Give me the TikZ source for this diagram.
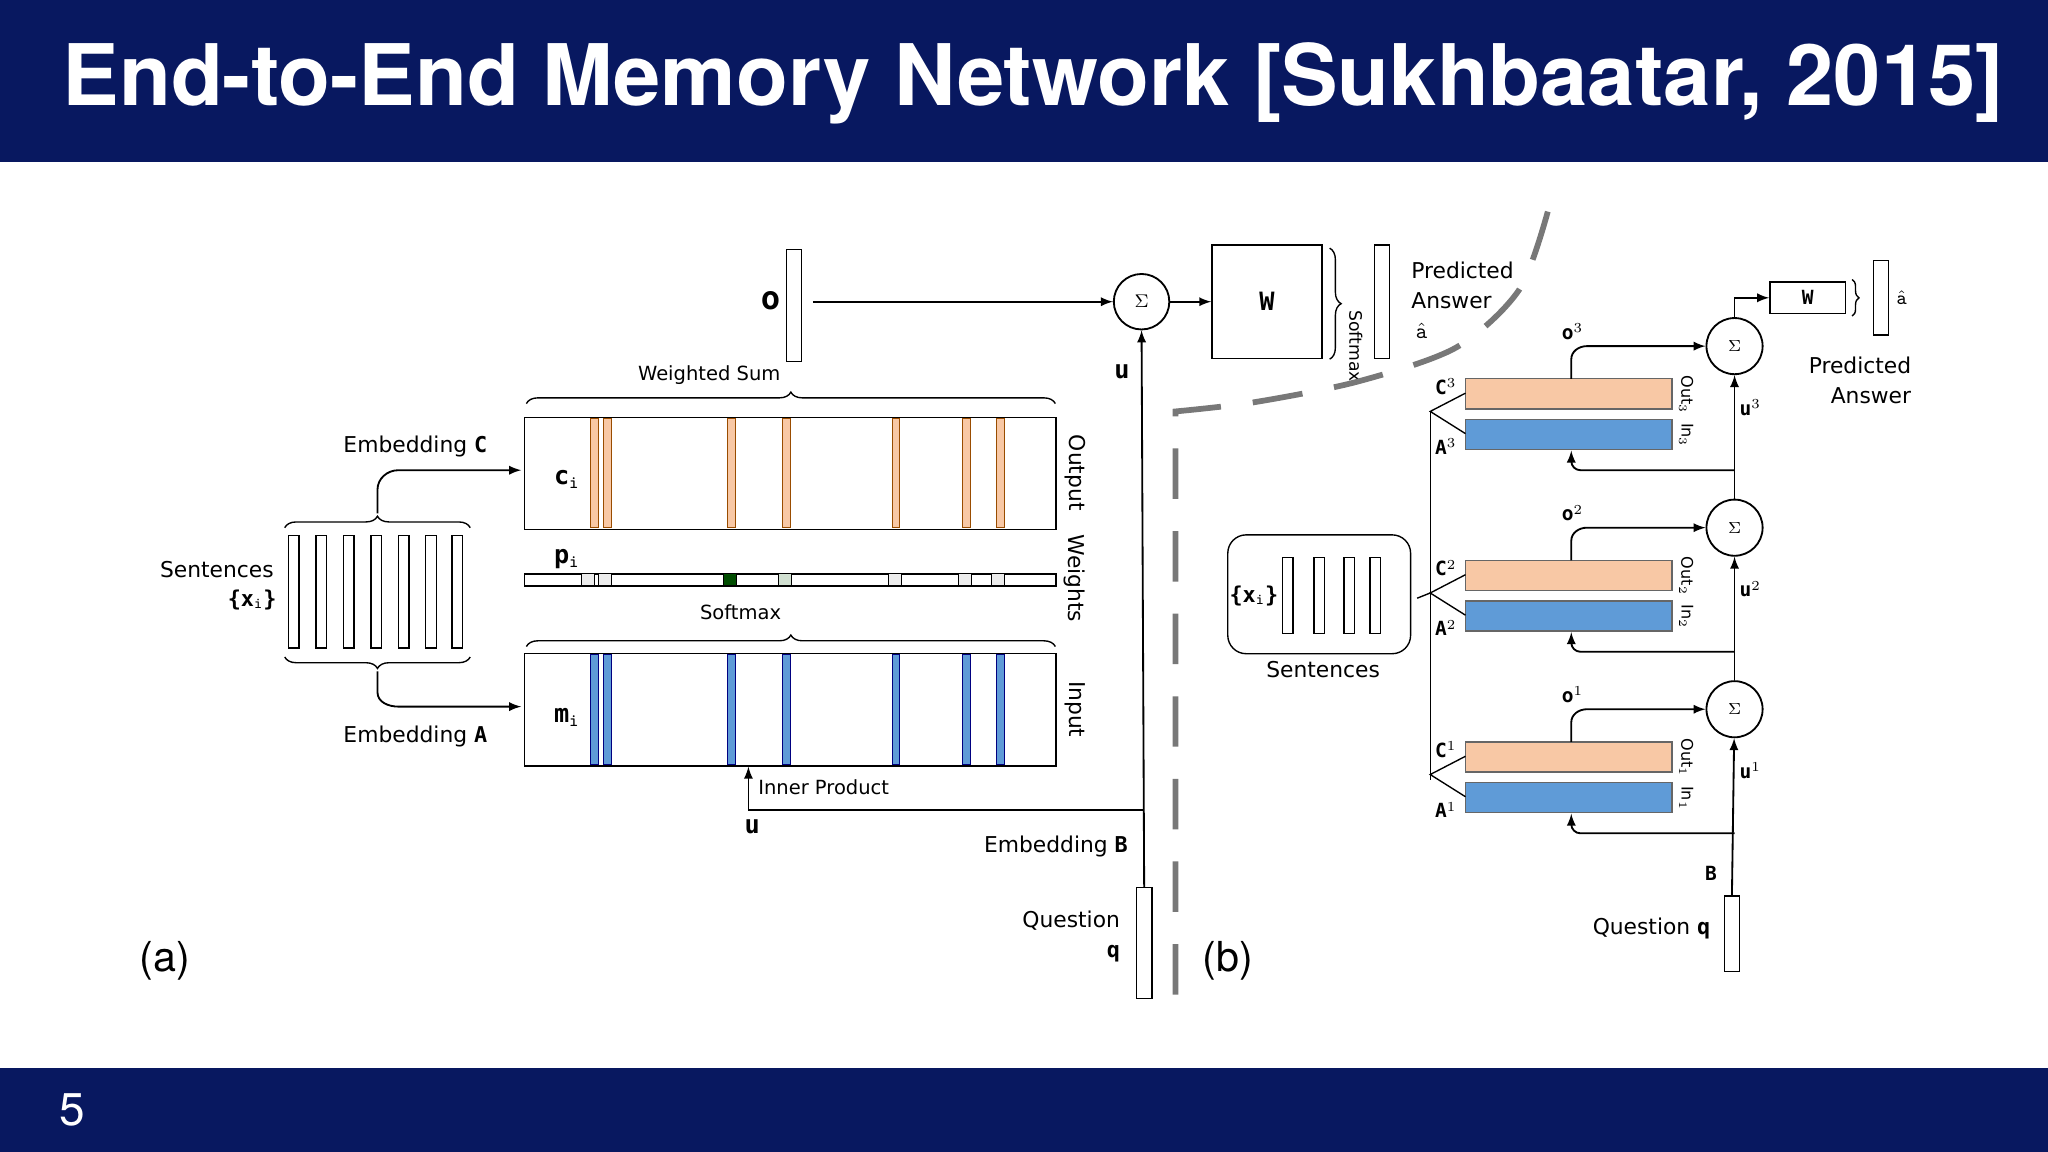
\documentclass[tikz,border=0pt]{standalone}
\usepackage{fontspec}
\setmainfont{TeX Gyre Heros}
\newfontfamily\figfont{DejaVu Sans}
\newfontfamily\figtt{DejaVu Sans Mono}
\usetikzlibrary{arrows,decorations.pathreplacing}
\definecolor{navy}{RGB}{8,24,96}
\definecolor{outc}{RGB}{248,200,165}
\definecolor{inc}{RGB}{95,155,215}
\definecolor{dashc}{RGB}{120,120,120}
\begin{document}
\begin{tikzpicture}[x=0.02cm,y=-0.02cm,>=latex,thick,
                    font=\figfont\fontsize{8.5}{10}\selectfont]
  \tikzstyle{vec}=[draw,fill=white,semithick]
  \tikzstyle{sum}=[circle,draw,fill=white,minimum size=0.85cm,inner sep=0pt]
  \tikzstyle{brc}=[decorate,decoration={brace,amplitude=5pt}]
  \tikzstyle{tt}=[font=\figtt\bfseries\fontsize{11}{12}\selectfont]
  \tikzstyle{stt}=[font=\figtt\bfseries\fontsize{8.5}{10}\selectfont]
  \tikzstyle{lbl}=[font=\figfont\fontsize{9.5}{13}\selectfont]
  \tikzstyle{rot}=[rotate=-90,anchor=center]
  \tikzstyle{bar}=[draw=gray!80!black,semithick]

  \useasboundingbox (0,0) rectangle (1568,882);
  % bands
  \fill[navy] (0,0) rectangle (1568,124);
  \fill[navy] (0,818) rectangle (1568,882);
  \node[white,font=\bfseries\fontsize{37}{40}\selectfont] (title) at (791,64) {End-to-End Memory Network [Sukhbaatar, 2015]};
  \node[white,font=\fontsize{20}{22}\selectfont] (page) at (55,850) {5};

  %%% (a)
  \node[vec,minimum width=0.18cm,minimum height=1.72cm] (o) at (608,234) {};
  \node[tt,font=\figtt\bfseries\fontsize{14}{14}\selectfont] (olab) at (590,230) {o};
  \node[sum] (S) at (874,231) {$\Sigma$};
  \node[draw,minimum width=1.68cm,minimum height=1.74cm] (W) at (970,231) {};
  \node[tt] at (W) {W};
  \node[vec,minimum width=0.18cm,minimum height=1.74cm] (ans) at (1058,231) {};
  \draw[brc,semithick] (1018,190) -- (1018,275);
  \node[rot,font=\figfont\fontsize{7.5}{9}\selectfont] at (1038,265) {Softmax};
  \node[align=left,anchor=west,lbl] (pa) at (1074,230) {Predicted\\Answer\\\hspace*{2pt}$\hat{\mathtt{a}}$};
  \draw[->] (o.east |- S) ++(8,0) -- (S);
  \draw[->] (S) -- (W);

  % memory boxes
  \node[draw,semithick,anchor=north west,minimum width=8.14cm,minimum height=1.72cm] (C) at (401,319) {};
  \node[draw,semithick,anchor=north west,minimum width=8.14cm,minimum height=0.18cm,inner sep=0pt] (P) at (401,439) {};
  \node[draw,semithick,anchor=north west,minimum width=8.14cm,minimum height=1.72cm] (M) at (401,500) {};
  \foreach \x in {455,465,560,602,686,740,766}{
    \draw[fill=outc,draw=orange!60!black,thin] (\x-3,320) rectangle (\x+3,404);
    \draw[fill=inc,draw=blue!50!black,thin] (\x-3,501) rectangle (\x+3,585);
  }
  \foreach \x/\c in {450/gray!15,463/gray!15,559/green!30!black,601/green!20!gray!30,685/gray!15,739/gray!15,764/gray!15}
    \draw[fill=\c,thin] (\x-5,439) rectangle (\x+5,448);
  \node[tt] at (434,367) {c$_\mathtt{i}$};
  \node[tt] at (434,428) {p$_\mathtt{i}$};
  \node[tt] at (434,549) {m$_\mathtt{i}$};
  \node[rot,lbl] at (823,362) {Output};
  \node[rot,lbl] at (823,443) {Weights};
  \node[rot,lbl] at (823,543) {Input};
  \draw[brc,semithick] (403,309) -- (808,309);
  \node (ws) at (543,287) {Weighted Sum};
  \draw[brc,semithick] (403,495) -- (808,495);
  \node (sm) at (567,469) {Softmax};

  % question and u
  \node[vec,minimum width=0.18cm,minimum height=1.7cm] (q) at (876,722) {};
  \coordinate (ip) at (876,620);
  \draw[->] (q.north) -- (S.south);
  \draw[->] (ip) -- (573,620) -- (573,587);
  \node[anchor=west] at (574,603) {Inner Product};
  \node[tt] at (576,633) {u};
  \node[tt] at (859,285) {u};
  \node[lbl,anchor=east] at (870,648) {Embedding {\figtt\bfseries B}};
  \node[lbl,align=right,anchor=east] at (864,717) {Question\\{\figtt\bfseries q}};

  % sentences
  \foreach \x in {225,246,267,288,309,330,350}
    \draw[semithick] (\x-4,410) rectangle (\x+4,496);
  \draw[brc,semithick] (218,404) -- (360,404);
  \draw[brc,semithick] (360,503) -- (218,503);
  \draw[->] (289,393) -- (289,375) to[out=90,in=180] (305,360) -- (399,360);
  \draw[->] (289,514) -- (289,530) to[out=-90,in=180] (305,541) -- (399,541);
  \node[lbl] at (318,342) {Embedding {\figtt\bfseries C}};
  \node[lbl] at (318,564) {Embedding {\figtt\bfseries A}};
  \node[lbl] at (166,436) {Sentences};
  \node[lbl] at (193,459) {{\figtt\bfseries\{x$_\mathtt{i}$\}}};
  \node[font=\fontsize{18}{20}\selectfont] at (126,736) {(a)};

  % divider
  \draw[dashc,line width=2.5pt,dash pattern=on 22pt off 14pt]
    plot[smooth] coordinates {(1185,162) (1163,222) (1115,266) (1040,292) (960,308) (900,315)}
    -- (900,765);

  %%% (b)
  \node[draw,semithick,rounded corners=8pt,minimum width=2.8cm,minimum height=1.82cm] (sent) at (1010,455) {};
  \foreach \x in {986,1010,1033,1053}
    \draw[semithick] (\x-4,427) rectangle (\x+4,485);
  \node[lbl] at (960,456) {{\figtt\bfseries\{x$_\mathtt{i}$\}}};
  \node[lbl] at (1013,513) {Sentences};
  \draw[semithick] (1095,315) -- (1095,597);
  \draw[semithick] (1085,458) -- (1095,454);
  \foreach \k/\y in {3/265,2/404,1/543}{
    \node[sum,minimum size=0.86cm] (s\k) at (1328,\y) {\scriptsize$\Sigma$};
    \draw[bar,fill=outc] (1122,\y+25) rectangle (1280,\y+48);
    \draw[bar,fill=inc] (1122,\y+56) rectangle (1280,\y+79);
    \node[stt] at (1107,\y+31) {C$^\k$};
    \node[stt] at (1107,\y+77) {A$^\k$};
    \node[rot,font=\figfont\fontsize{7}{9}\selectfont] at (1291,\y+37) {Out$_\k$};
    \node[rot,font=\figfont\fontsize{7}{9}\selectfont] at (1291,\y+68) {In$_\k$};
    \node[stt] at (1204,\y-11) {o$^\k$};
    \node[stt] at (1340,\y+47) {u$^\k$};
    \draw[->] (1203,\y+25) -- (1203,\y+10) to[out=90,in=180] (1215,\y) -- (s\k);
    \draw[->] (1328,\y+95) -- (1210,\y+95) to[out=180,in=-90] (1203,\y+88) -- (1203,\y+80);
    \draw[semithick] (1122,\y+36) -- (1095,\y+50) -- (1122,\y+67);
  }
  \draw[->] (s1) -- (s2);
  \draw[->] (s2) -- (s3);
  \node[vec,minimum width=0.18cm,minimum height=1.16cm] (q2) at (1326,715) {};
  \draw[->] (q2.north) -- (s1);
  \node[stt] at (1310,669) {B};
  \node[lbl,anchor=east] at (1316,711) {Question {\figtt\bfseries q}};
  \node[draw,semithick,minimum width=1.16cm,minimum height=0.48cm] (W2) at (1384,228) {};
  \node[stt] at (W2) {W};
  \draw[->] (s3) -- (1328,228) -- (W2);
  \draw[brc,semithick,decoration={amplitude=3pt}] (1418,214) -- (1418,242);
  \node[vec,minimum width=0.18cm,minimum height=1.14cm] (ans2) at (1440,228) {};
  \node at (1456,228) {$\hat{\mathtt{a}}$};
  \node[lbl,align=right] at (1424,291) {Predicted\\Answer};
  \node[font=\fontsize{18}{20}\selectfont] at (940,736) {(b)};
\end{tikzpicture}
\end{document}
